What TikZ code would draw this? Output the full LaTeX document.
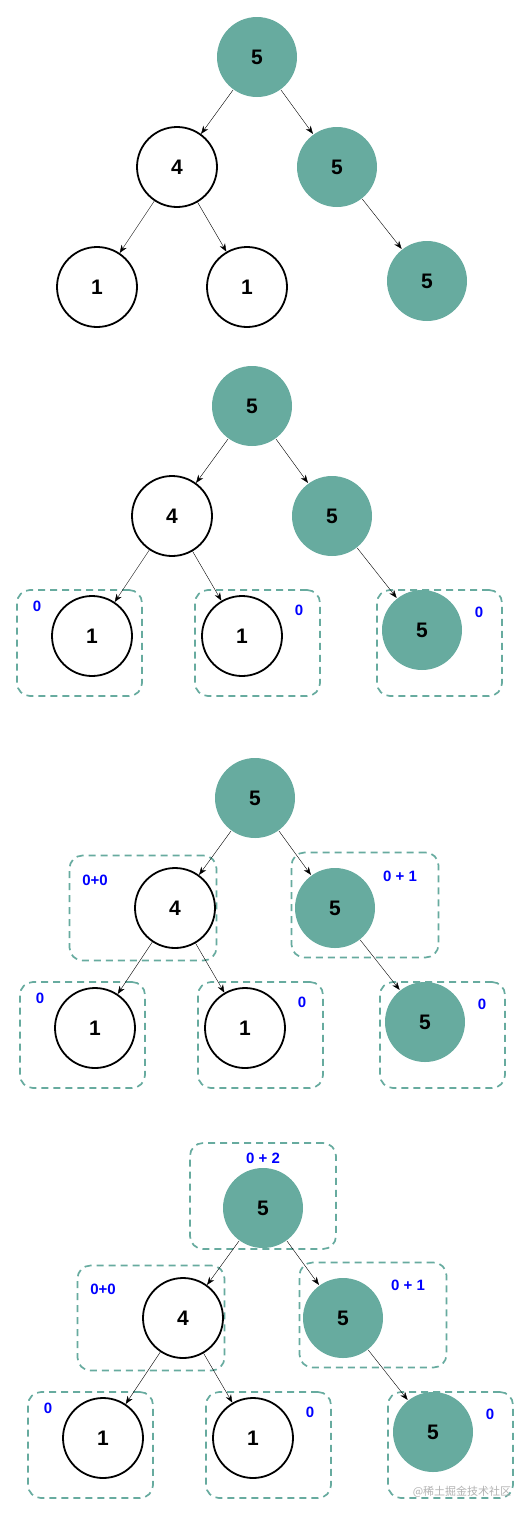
\documentclass[tikz,border=0pt]{standalone}
\usepackage{fontspec}
\setmainfont{Liberation Sans}
\newfontfamily\cjkfont{Noto Sans CJK SC}
\usetikzlibrary{arrows.meta}
\definecolor{sumgreen}{HTML}{67AB9F}
\tikzset{
  val/.style={circle,draw=black,line width=1.8pt,minimum size=80pt,inner sep=0pt,
    font=\fontsize{21}{25}\selectfont\bfseries},
  hit/.style={val,draw=none,fill=sumgreen},
  part/.style={draw=sumgreen,dash pattern=on 7pt off 5pt,line width=1.7pt,
    rounded corners=13pt,minimum width=125pt,minimum height=106pt},
  wide/.style={part,minimum width=147pt,minimum height=105pt},
  cnt/.style={text=blue,inner sep=0pt,font=\fontsize{15}{18}\selectfont\bfseries}
}
\begin{document}
\begin{tikzpicture}[x=1pt,y=-1pt,>={Stealth[length=8pt,width=6pt]}]
  \useasboundingbox (0,0) rectangle (530,1516);

  % tree only
  \node[hit] (top1) at (257,57) {5};
  \node[val] (left1) at (177,167) {4};
  \node[hit] (right1) at (337,167) {5};
  \node[val] (leafa1) at (97,287) {1};
  \node[val] (leafb1) at (247,287) {1};
  \node[hit] (leafc1) at (427,281) {5};

  \draw (top1) edge[->] (left1);
  \draw (top1) edge[->] (right1);
  \draw (left1) edge[->] (leafa1);
  \draw (left1) edge[->] (leafb1);
  \draw (right1) edge[->] (leafc1);

  % leaves
  \begin{scope}[shift={(-5,349)}]
    \node[part] (boxa2) at (84.5,294) {};
    \node[part] (boxb2) at (262.5,294) {};
    \node[part] (boxc2) at (444.5,294) {};

    \node[hit] (top2) at (257,57) {5};
    \node[val] (left2) at (177,167) {4};
    \node[hit] (right2) at (337,167) {5};
    \node[val] (leafa2) at (97,287) {1};
    \node[val] (leafb2) at (247,287) {1};
    \node[hit] (leafc2) at (427,281) {5};

    \draw (top2) edge[->] (left2);
    \draw (top2) edge[->] (right2);
    \draw (left2) edge[->] (leafa2);
    \draw (left2) edge[->] (leafb2);
    \draw (right2) edge[->] (leafc2);

    \node[cnt] (cnta2) at (42,257) {0};
    \node[cnt] (cntb2) at (304,261) {0};
    \node[cnt] (cntc2) at (484,263) {0};
  \end{scope}

  % middle level
  \begin{scope}[shift={(-2,741)}]
    \node[wide] (boxl3) at (145,167) {};
    \node[wide] (boxr3) at (367,164) {};
    \node[part] (boxa3) at (84.5,294) {};
    \node[part] (boxb3) at (262.5,294) {};
    \node[part] (boxc3) at (444.5,294) {};

    \node[hit] (top3) at (257,57) {5};
    \node[val] (left3) at (177,167) {4};
    \node[hit] (right3) at (337,167) {5};
    \node[val] (leafa3) at (97,287) {1};
    \node[val] (leafb3) at (247,287) {1};
    \node[hit] (leafc3) at (427,281) {5};

    \draw (top3) edge[->] (left3);
    \draw (top3) edge[->] (right3);
    \draw (left3) edge[->] (leafa3);
    \draw (left3) edge[->] (leafb3);
    \draw (right3) edge[->] (leafc3);

    \node[cnt] (cntl3) at (97,139) {0+0};
    \node[cnt] (cntr3) at (402,135) {0 + 1};
    \node[cnt] (cnta3) at (42,257) {0};
    \node[cnt] (cntb3) at (304,261) {0};
    \node[cnt] (cntc3) at (484,263) {0};
  \end{scope}

  % root
  \begin{scope}[shift={(6,1151)}]
    \node[wide,minimum width=146pt,minimum height=106pt] (boxt4) at (257,45) {};
    \node[wide] (boxl4) at (145,167) {};
    \node[wide] (boxr4) at (367,164) {};
    \node[part] (boxa4) at (84.5,294) {};
    \node[part] (boxb4) at (262.5,294) {};
    \node[part] (boxc4) at (444.5,294) {};

    \node[hit] (top4) at (257,57) {5};
    \node[val] (left4) at (177,167) {4};
    \node[hit] (right4) at (337,167) {5};
    \node[val] (leafa4) at (97,287) {1};
    \node[val] (leafb4) at (247,287) {1};
    \node[hit] (leafc4) at (427,281) {5};

    \draw (top4) edge[->] (left4);
    \draw (top4) edge[->] (right4);
    \draw (left4) edge[->] (leafa4);
    \draw (left4) edge[->] (leafb4);
    \draw (right4) edge[->] (leafc4);

    \node[cnt] (cntt4) at (257,7) {0 + 2};
    \node[cnt] (cntl4) at (97,138) {0+0};
    \node[cnt] (cntr4) at (402,134) {0 + 1};
    \node[cnt] (cnta4) at (42,257) {0};
    \node[cnt] (cntb4) at (304,261) {0};
    \node[cnt] (cntc4) at (484,263) {0};
  \end{scope}

  \node[text=black!30,font=\cjkfont\fontsize{11}{13}\selectfont] (mark) at (462,1492) {@稀土掘金技术社区};
\end{tikzpicture}
\end{document}
